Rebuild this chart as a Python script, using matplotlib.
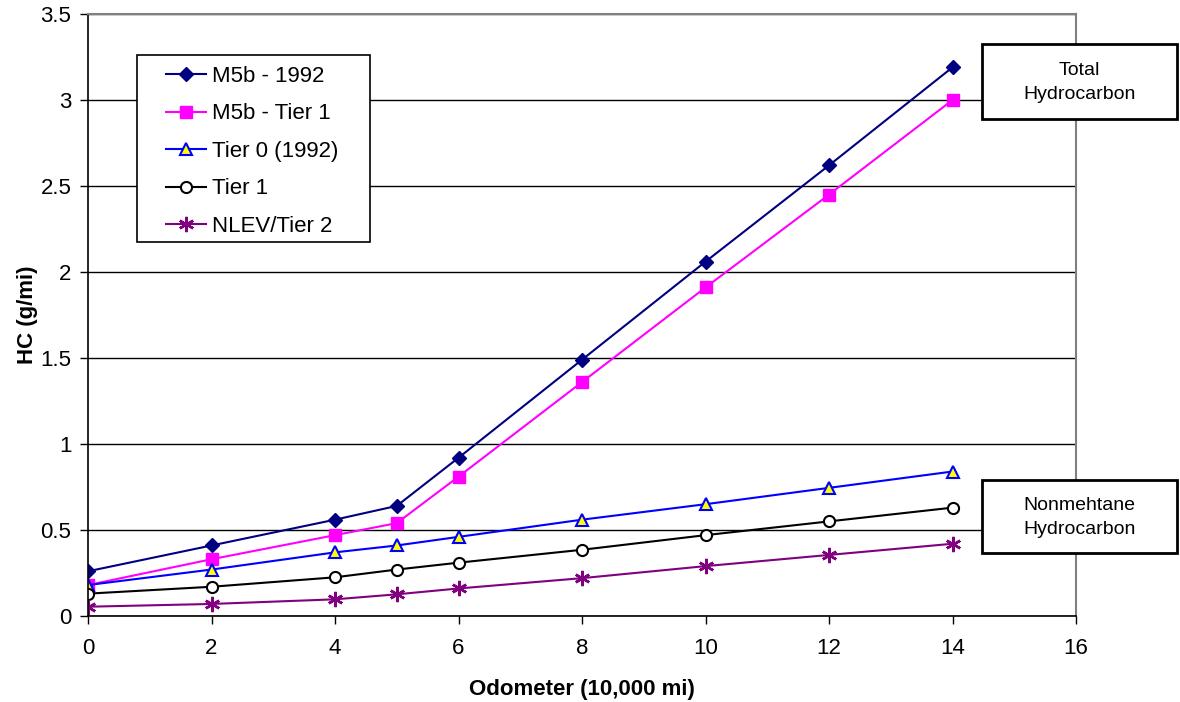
import numpy as np
import matplotlib
matplotlib.use('Agg')
import matplotlib.pyplot as plt
from matplotlib.patches import Rectangle

plt.rcParams['font.family'] = ['Liberation Sans', 'DejaVu Sans']

odometer = [0, 2, 4, 5, 6, 8, 10, 12, 14]
m5b_1992 = [0.26, 0.41, 0.56, 0.64, 0.92, 1.49, 2.06, 2.62, 3.19]
m5b_tier1 = [0.18, 0.33, 0.47, 0.54, 0.81, 1.36, 1.91, 2.45, 3.00]
tier0 = [0.18, 0.27, 0.37, 0.41, 0.46, 0.56, 0.65, 0.745, 0.84]
tier1 = [0.13, 0.17, 0.225, 0.27, 0.31, 0.385, 0.47, 0.55, 0.63]
nlev_tier2 = [0.054, 0.07, 0.097, 0.126, 0.16, 0.22, 0.29, 0.355, 0.42]

fig = plt.figure(figsize=(11.8, 7.02), dpi=100)
ax = fig.add_axes([88/1180, 86/702, 988/1180, 602/702])

ax.plot(odometer, m5b_1992, color='#000080', marker='D', ms=7, lw=1.5, label='M5b - 1992')
ax.plot(odometer, m5b_tier1, color='#ff00ff', marker='s', ms=9, lw=1.5, label='M5b - Tier 1')
ax.plot(odometer, tier0, color='#0000ff', marker='^', ms=9, mfc='#ffff00', mec='#0000ff',
        mew=1.5, lw=1.5, label='Tier 0 (1992)')
ax.plot(odometer, tier1, color='black', marker='o', ms=8, mfc='white', mec='black',
        mew=1.5, lw=1.5, label='Tier 1')
ax.plot(odometer, nlev_tier2, color='#800080', marker=(6, 2, 0), ms=11, mew=1.8, lw=1.5,
        label='NLEV/Tier 2')

ax.set_xlim(0, 16)
ax.set_ylim(0, 3.5)
ax.set_xticks(np.arange(0, 17, 2))
ax.set_yticks(np.arange(0, 3.51, 0.5))
ax.set_yticklabels(['0', '0.5', '1', '1.5', '2', '2.5', '3', '3.5'])
ax.grid(axis='y', color='black', lw=1)
ax.set_axisbelow(True)
ax.tick_params(direction='out', length=6, width=1, labelsize=16, pad=6)
ax.tick_params(axis='x', pad=10)
for s in ['top', 'right']:
    ax.spines[s].set_color('#808080')
    ax.spines[s].set_linewidth(1.5)
for s in ['left', 'bottom']:
    ax.spines[s].set_linewidth(1.2)

ax.set_xlabel('Odometer (10,000 mi)', fontsize=16, fontweight='bold', labelpad=14)
ax.set_ylabel('HC (g/mi)', fontsize=16, fontweight='bold', labelpad=2)

# legend entries without frame, frame drawn separately to get wider side padding
leg = ax.legend(loc='upper left', bbox_to_anchor=((166 - 88)/988, 1 - (66 - 14)/602),
                borderaxespad=0, borderpad=0, fontsize=16, frameon=False,
                handlelength=1.8, labelspacing=0.74, handletextpad=0.25)
ax.add_patch(Rectangle(((137 - 88)/988, 1 - (242 - 14)/602), (370 - 137)/988, (242 - 55)/602,
                       transform=ax.transAxes, facecolor='white', edgecolor='black',
                       lw=1.2, zorder=4))
leg.set_zorder(5)

# boxed annotations on the right
for (y0, y1, txt) in [(44, 119, 'Total\nHydrocarbon'), (480, 553, 'Nonmehtane\nHydrocarbon')]:
    x0, x1 = 982, 1177
    fig.patches.append(Rectangle((x0/1180, 1 - y1/702), (x1 - x0)/1180, (y1 - y0)/702,
                                 transform=fig.transFigure, facecolor='white',
                                 edgecolor='black', lw=2, zorder=5))
    fig.text((x0 + x1)/2/1180, 1 - (y0 + y1 + 2)/2/702, txt, ha='center', va='center',
             fontsize=14, linespacing=1.5, zorder=6)

fig.savefig('out.png', dpi=100)
